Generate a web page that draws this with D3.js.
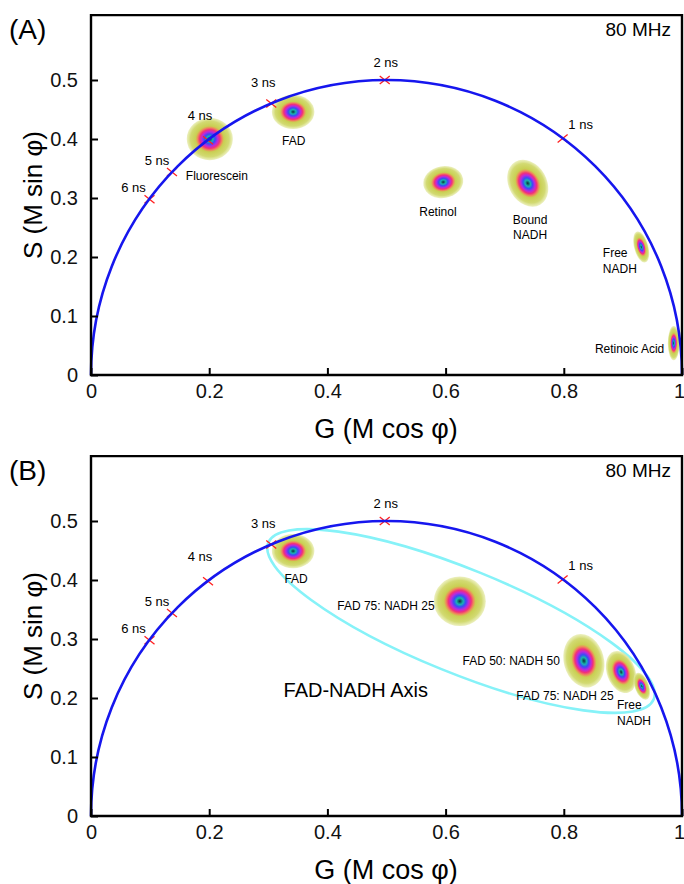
<!DOCTYPE html>
<html>
<head>
<meta charset="utf-8">
<script src="https://cdn.jsdelivr.net/npm/d3@7"></script>
<style>
  html, body { margin: 0; padding: 0; background: #fff; }
  svg { display: block; font-family: "Liberation Sans", Arial, sans-serif; }
</style>
</head>
<body>
<svg id="chart" width="684" height="884"></svg>
<script>
// ---------------- data ----------------
const xTicks = [0, 0.2, 0.4, 0.6, 0.8, 1];
const yTicks = [0, 0.1, 0.2, 0.3, 0.4, 0.5];

const lifetimeLabels = ["1 ns", "2 ns", "3 ns", "4 ns", "5 ns", "6 ns"];
const lifetimeG = [0.798, 0.497, 0.305, 0.198, 0.137, 0.099];
const lifetimeS = [0.401, 0.500, 0.460, 0.398, 0.344, 0.298];

// panel A clusters
const clusterNamesA = ["Fluorescein", "FAD", "Retinol", "Bound NADH", "Free NADH", "Retinoic Acid"];
const clusterGA     = [0.201, 0.342, 0.596, 0.739, 0.931, 0.986];
const clusterSA     = [0.400, 0.446, 0.327, 0.325, 0.217, 0.054];
const spreadGA      = [0.039, 0.036, 0.034, 0.032, 0.012, 0.010];
const spreadSA      = [0.036, 0.029, 0.027, 0.042, 0.027, 0.029];
const tiltA         = [0, 0, -10, -30, -15, 0];

// panel B clusters
const clusterNamesB = ["FAD", "FAD 75: NADH 25", "FAD 50: NADH 50", "FAD 75: NADH 25 (b)", "Free NADH"];
const clusterGB     = [0.342, 0.624, 0.834, 0.897, 0.932];
const clusterSB     = [0.449, 0.364, 0.263, 0.244, 0.220];
const spreadGB      = [0.036, 0.044, 0.034, 0.024, 0.012];
const spreadSB      = [0.029, 0.042, 0.046, 0.037, 0.024];
const tiltB         = [0, 0, -15, -20, -20];

// text annotations (data coordinates)
const labelTextA   = ["Fluorescein", "FAD", "Retinol", "Bound", "NADH", "Free", "NADH", "Retinoic Acid"];
const labelGA      = [0.213, 0.343, 0.587, 0.743, 0.743, 0.866, 0.866, 0.970];
const labelSA      = [0.339, 0.398, 0.278, 0.264, 0.239, 0.208, 0.181, 0.046];
const labelAnchorA = ["middle", "middle", "middle", "middle", "middle", "start", "start", "end"];

const labelTextB   = ["FAD", "FAD 75: NADH 25", "FAD 50: NADH 50", "FAD 75: NADH 25", "Free", "NADH"];
const labelGB      = [0.347, 0.499, 0.711, 0.802, 0.890, 0.890];
const labelSB      = [0.403, 0.358, 0.264, 0.205, 0.190, 0.163];
const labelAnchorB = ["middle", "middle", "middle", "middle", "start", "start"];

// FAD-NADH axis ellipse (data units)
const axisEllipse = { g: 0.626, s: 0.3305, a: 0.352, b: 0.088, angle: 22.1 };
const axisLabel = { text: "FAD-NADH Axis", g: 0.448, s: 0.2136 };

const frequencyLabel = "80 MHz";
// ---------------- layout ----------------
const svg = d3.select("#chart");
const defs = svg.append("defs");
const grad = defs.append("radialGradient").attr("id", "blob");
[
  [0.00, "#0b2f2f", 1],
  [0.06, "#0f6f70", 1],
  [0.13, "#18b4b0", 1],
  [0.23, "#3a4cf5", 1],
  [0.34, "#b828e0", 1],
  [0.44, "#f2307a", 1],
  [0.53, "#ee8a5a", 1],
  [0.61, "#c9cf52", 1],
  [0.84, "#d2da72", 1],
  [1.00, "#e6ebaa", 0.75]
].forEach(([o, c, op]) => grad.append("stop").attr("offset", o).attr("stop-color", c).attr("stop-opacity", op));

const x = d3.scaleLinear().domain([0, 1]).range([91, 682]);

function panel(opts) {
  const y = d3.scaleLinear().domain([0, 0.61]).range([opts.bottom, opts.bottom - 0.61 * 590]);
  const g = svg.append("g");

  // cyan ellipse
  if (opts.ellipse) {
    const e = opts.ellipse;
    g.append("ellipse")
      .attr("transform", `translate(${x(e.g)},${y(e.s)}) rotate(${e.angle})`)
      .attr("rx", x(e.a) - x(0)).attr("ry", y(0) - y(e.b))
      .attr("fill", "none").attr("stroke", "#86f2f8").attr("stroke-width", 2.6);
  }

  // blobs
  opts.cg.forEach((cg, i) => {
    g.append("ellipse")
      .attr("transform", `translate(${x(cg)},${y(opts.cs[i])}) rotate(${opts.tilt[i]})`)
      .attr("rx", x(opts.sg[i]) - x(0)).attr("ry", y(0) - y(opts.ss[i]))
      .attr("fill", "url(#blob)");
  });

  // lifetime markers
  const offs = [[18, -14], [1, -18], [-8, -21], [-8, -25], [-15, -12], [-16, -12]];
  lifetimeG.forEach((lg, i) => {
    const px = x(lg), py = y(lifetimeS[i]);
    g.append("path")
      .attr("d", `M${px - 5},${py - 4}L${px + 5},${py + 4}M${px - 5},${py + 4}L${px + 5},${py - 4}`)
      .attr("stroke", "#ff2020").attr("stroke-width", 1.3).attr("fill", "none");
    g.append("text").attr("x", px + offs[i][0]).attr("y", py + offs[i][1])
      .attr("dy", "0.35em").attr("text-anchor", "middle")
      .attr("font-size", 13).text(lifetimeLabels[i]);
  });

  // universal semicircle
  g.append("path")
    .attr("d", `M${x(0)},${y(0)} A${x(0.5) - x(0)},${y(0) - y(0.5)} 0 0 1 ${x(1)},${y(0)}`)
    .attr("fill", "none").attr("stroke", "#1616ee").attr("stroke-width", 2.6);

  // cluster labels (condensed)
  opts.lt.forEach((t, i) => {
    g.append("text")
      .attr("transform", `translate(${x(opts.lg[i])},${y(opts.ls[i])}) scale(0.89,1)`)
      .attr("dy", "0.35em").attr("text-anchor", opts.la[i])
      .attr("font-size", 13.5).text(t);
  });

  if (opts.axisLabel) {
    g.append("text").attr("x", x(opts.axisLabel.g)).attr("y", y(opts.axisLabel.s))
      .attr("dy", "0.35em").attr("text-anchor", "middle")
      .attr("font-size", 20).text(opts.axisLabel.text);
  }

  // axes
  const ax = g.append("g").attr("transform", `translate(0,${y(0)})`)
    .call(d3.axisBottom(x).tickValues(xTicks).tickSize(-7).tickSizeOuter(0).tickPadding(9).tickFormat(d3.format("~g")));
  const ay = g.append("g").attr("transform", `translate(${x(0)},0)`)
    .call(d3.axisLeft(y).tickValues(yTicks).tickSize(-7).tickSizeOuter(0).tickPadding(13).tickFormat(d3.format("~g")));
  [ax, ay].forEach(a => {
    a.select(".domain").remove();
    a.selectAll(".tick line").attr("stroke", "#000").attr("stroke-width", 2);
    a.selectAll(".tick text").attr("font-size", 20).attr("font-family", "Liberation Sans, Arial, sans-serif").attr("fill", "#111");
  });
  ax.selectAll(".tick text").filter(d => d === 1).attr("dx", -3);

  // frame
  g.append("path")
    .attr("d", `M${x(0)},${y(0.61)}L${x(0)},${y(0)}L${x(1)},${y(0)}L${x(1)},${y(0.61)}Z`)
    .attr("fill", "none").attr("stroke", "#000").attr("stroke-width", 2.4);

  // titles
  g.append("text").attr("x", 386).attr("y", y(0) + 54).attr("dy", "0.35em")
    .attr("text-anchor", "middle").attr("font-size", 27).text("G (M cos φ)");
  g.append("text").attr("transform", `translate(33,${y(0.305)}) rotate(-90)`).attr("dy", "0.35em")
    .attr("text-anchor", "middle").attr("font-size", 26).text("S (M sin φ)");
  g.append("text").attr("x", 9).attr("y", y(0.61) + 14).attr("dy", "0.35em")
    .attr("font-size", 28).text(opts.tag);
  g.append("text").attr("x", 671).attr("y", y(0.61) + 14).attr("dy", "0.35em")
    .attr("text-anchor", "end").attr("font-size", 19).text(frequencyLabel);
}

panel({
  bottom: 375, tag: "(A)",
  cg: clusterGA, cs: clusterSA, sg: spreadGA, ss: spreadSA, tilt: tiltA,
  lt: labelTextA, lg: labelGA, ls: labelSA, la: labelAnchorA
});
panel({
  bottom: 816, tag: "(B)",
  cg: clusterGB, cs: clusterSB, sg: spreadGB, ss: spreadSB, tilt: tiltB,
  lt: labelTextB, lg: labelGB, ls: labelSB, la: labelAnchorB,
  ellipse: axisEllipse, axisLabel: axisLabel
});
</script>
</body>
</html>
